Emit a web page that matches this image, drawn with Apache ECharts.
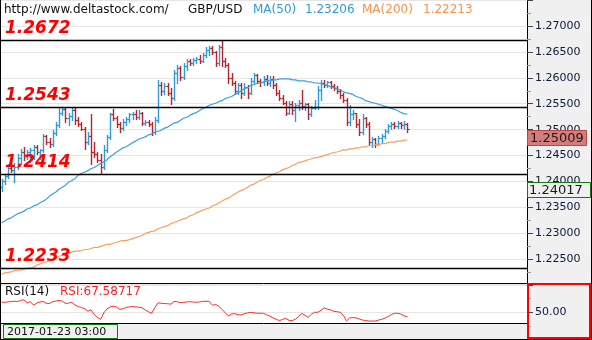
<!DOCTYPE html>
<html>
<head>
<meta charset="utf-8">
<script src="https://cdn.jsdelivr.net/npm/echarts@6/dist/echarts.min.js"></script>
<style>
  html, body { margin: 0; padding: 0; background: #fff; }
  #chart { width: 592px; height: 340px; }
</style>
</head>
<body>
<div id="chart"></div>
<script>
// GBP/USD hourly bars with MA(50), MA(200) and RSI(14)
const siteName = 'http://www.deltastock.com/';
const symbolName = 'GBP/USD';
const firstBarTime = '2017-01-23 03:00';
const slotCount = 165;          // hourly slots on the time axis (bars fill the first part)
const cursorIndex = 0;          // bar under the cursor: header values and the green price box

// [open, high, low, close]
const bars = [
  [1.2389,1.2404,1.2381,1.24017],[1.2402,1.2412,1.2395,1.2410],[1.2410,1.2433,1.2406,1.2427],[1.2427,1.2438,1.2419,1.2423],
  [1.2423,1.2435,1.2400,1.2429],[1.2429,1.2454,1.2425,1.2446],[1.2446,1.2463,1.2433,1.2457],[1.2457,1.2467,1.2442,1.2452],
  [1.2452,1.2461,1.2444,1.2457],[1.2457,1.2465,1.2438,1.2461],[1.2461,1.2471,1.2444,1.2467],[1.2467,1.2471,1.2454,1.2457],
  [1.2457,1.2463,1.2444,1.2461],[1.2461,1.2492,1.2457,1.2488],[1.2488,1.2490,1.2473,1.2476],[1.2476,1.2484,1.2467,1.2473],
  [1.2473,1.2499,1.2469,1.2494],[1.2494,1.2514,1.2490,1.2509],[1.2509,1.2541,1.2505,1.2533],[1.2533,1.2543,1.2528,1.2539],
  [1.2539,1.2541,1.2514,1.2522],[1.2522,1.2533,1.2509,1.2526],[1.2526,1.2542,1.2518,1.2537],[1.2537,1.2541,1.2511,1.2518],
  [1.2518,1.2524,1.2507,1.2511],[1.2511,1.2514,1.2499,1.2501],[1.2501,1.2505,1.2463,1.2476],[1.2476,1.2495,1.2473,1.2488],
  [1.2488,1.2530,1.2433,1.2457],[1.2457,1.2476,1.2448,1.2454],[1.2454,1.2457,1.2438,1.2442],[1.2442,1.2454,1.2414,1.2429],
  [1.2429,1.2471,1.2425,1.2461],[1.2461,1.2490,1.2457,1.2486],[1.2486,1.2533,1.2482,1.2530],[1.2530,1.2539,1.2518,1.2522],
  [1.2522,1.2526,1.2505,1.2511],[1.2511,1.2514,1.2495,1.2503],[1.2503,1.2520,1.2499,1.2514],[1.2514,1.2524,1.2509,1.2520],
  [1.2520,1.2533,1.2514,1.2530],[1.2530,1.2535,1.2520,1.2531],[1.2531,1.2537,1.2520,1.2524],[1.2524,1.2537,1.2520,1.2533],
  [1.2533,1.2535,1.2509,1.2513],[1.2513,1.2518,1.2509,1.2514],[1.2514,1.2518,1.2507,1.2511],[1.2511,1.2514,1.2490,1.2495],
  [1.2495,1.2524,1.2492,1.2518],[1.2518,1.2596,1.2514,1.2587],[1.2587,1.2592,1.2566,1.2575],[1.2575,1.2590,1.2568,1.2585],
  [1.2585,1.2590,1.2566,1.2571],[1.2571,1.2581,1.2549,1.2562],[1.2562,1.2615,1.2558,1.2609],[1.2609,1.2625,1.2590,1.2619],
  [1.2619,1.2623,1.2596,1.2602],[1.2602,1.2628,1.2598,1.2623],[1.2623,1.2636,1.2615,1.2632],[1.2632,1.2636,1.2625,1.2628],
  [1.2628,1.2638,1.2625,1.2634],[1.2634,1.2640,1.2628,1.2636],[1.2636,1.2644,1.2628,1.2632],[1.2632,1.2647,1.2630,1.2644],
  [1.2644,1.2659,1.2640,1.2653],[1.2653,1.2661,1.2644,1.2657],[1.2657,1.2661,1.2645,1.2649],[1.2649,1.2651,1.2623,1.2628],
  [1.2628,1.2663,1.2625,1.2659],[1.2659,1.2672,1.2623,1.2632],[1.2632,1.2638,1.2621,1.2625],[1.2625,1.2628,1.2590,1.2600],
  [1.2600,1.2609,1.2587,1.2590],[1.2590,1.2594,1.2568,1.2575],[1.2575,1.2590,1.2568,1.2587],[1.2587,1.2590,1.2562,1.2571],
  [1.2571,1.2590,1.2566,1.2583],[1.2583,1.2587,1.2562,1.2571],[1.2571,1.2600,1.2568,1.2594],[1.2594,1.2609,1.2590,1.2606],
  [1.2606,1.2608,1.2590,1.2594],[1.2594,1.2598,1.2585,1.2592],[1.2592,1.2604,1.2587,1.2598],[1.2598,1.2606,1.2587,1.2590],
  [1.2590,1.2604,1.2585,1.2598],[1.2598,1.2604,1.2581,1.2587],[1.2587,1.2590,1.2566,1.2571],[1.2571,1.2577,1.2558,1.2562],
  [1.2562,1.2566,1.2549,1.2552],[1.2552,1.2556,1.2528,1.2533],[1.2533,1.2556,1.2530,1.2549],[1.2549,1.2556,1.2530,1.2537],
  [1.2537,1.2552,1.2516,1.2547],[1.2547,1.2558,1.2537,1.2552],[1.2552,1.2577,1.2539,1.2545],[1.2545,1.2552,1.2537,1.2549],
  [1.2549,1.2551,1.2520,1.2530],[1.2530,1.2545,1.2526,1.2541],[1.2541,1.2558,1.2539,1.2543],[1.2543,1.2585,1.2539,1.2577],
  [1.2577,1.2596,1.2558,1.2590],[1.2590,1.2596,1.2583,1.2587],[1.2587,1.2594,1.2583,1.2592],[1.2592,1.2594,1.2581,1.2585],
  [1.2585,1.2589,1.2577,1.2581],[1.2581,1.2585,1.2571,1.2575],[1.2575,1.2579,1.2562,1.2566],[1.2566,1.2570,1.2554,1.2558],
  [1.2558,1.2562,1.2509,1.2514],[1.2514,1.2547,1.2509,1.2530],[1.2530,1.2537,1.2520,1.2533],[1.2533,1.2533,1.2505,1.2511],
  [1.2511,1.2520,1.2490,1.2495],[1.2495,1.2530,1.2492,1.2522],[1.2522,1.2524,1.2505,1.2511],[1.2511,1.2514,1.2471,1.2476],
  [1.2476,1.2486,1.2467,1.2482],[1.2482,1.2484,1.2467,1.2473],[1.2473,1.2488,1.2471,1.2484],[1.2484,1.2492,1.2476,1.2488],
  [1.2488,1.2501,1.2484,1.2497],[1.2497,1.2511,1.2494,1.2507],[1.2507,1.2514,1.2501,1.2511],[1.2511,1.2514,1.2503,1.2507],
  [1.2507,1.2516,1.2503,1.2513],[1.2513,1.2514,1.2503,1.2509],[1.2509,1.2516,1.2501,1.2511],[1.2511,1.2513,1.2495,1.25009]
];

const ma50 = [
  1.23206,1.2324,1.2328,1.2330,1.2334,1.2338,1.2340,1.2343,1.2347,1.2349,
  1.2353,1.2355,1.2359,1.2362,1.2366,1.2372,1.2376,1.2380,1.2385,1.2389,
  1.2393,1.2399,1.2402,1.2406,1.2412,1.2416,1.2418,1.2421,1.2425,1.2427,
  1.2431,1.2435,1.2438,1.2442,1.2448,1.2452,1.2457,1.2461,1.2465,1.2467,
  1.2471,1.2475,1.2478,1.2482,1.2484,1.2486,1.2490,1.2492,1.2495,1.2497,
  1.2499,1.2503,1.2505,1.2509,1.2513,1.2514,1.2518,1.2522,1.2524,1.2528,
  1.2531,1.2533,1.2537,1.2541,1.2543,1.2547,1.2549,1.2551,1.2554,1.2556,
  1.2560,1.2562,1.2564,1.2568,1.2571,1.2575,1.2579,1.2581,1.2585,1.2587,
  1.2589,1.2590,1.2592,1.2594,1.2594,1.2596,1.2596,1.2598,1.2598,1.2598,
  1.2598,1.2596,1.2596,1.2594,1.2594,1.2594,1.2592,1.2592,1.2590,1.2590,
  1.2589,1.2587,1.2585,1.2583,1.2581,1.2579,1.2577,1.2573,1.2571,1.2570,
  1.2568,1.2564,1.2562,1.2560,1.2556,1.2554,1.2552,1.2551,1.2549,1.2547,
  1.2545,1.2543,1.2541,1.2539,1.2537,1.2533,1.2531,1.2530
];

const ma200 = [
  1.22213,1.2224,1.2225,1.2226,1.2228,1.2229,1.2229,1.2231,1.2233,1.2233,
  1.2235,1.2239,1.2241,1.2243,1.2245,1.2248,1.2250,1.2252,1.2256,1.2258,
  1.2260,1.2262,1.2264,1.2266,1.2266,1.2267,1.2269,1.2269,1.2271,1.2273,
  1.2273,1.2275,1.2277,1.2279,1.2279,1.2281,1.2283,1.2285,1.2286,1.2286,
  1.2288,1.2290,1.2292,1.2294,1.2296,1.2300,1.2302,1.2304,1.2305,1.2309,
  1.2311,1.2313,1.2315,1.2319,1.2321,1.2323,1.2326,1.2328,1.2330,1.2334,
  1.2336,1.2340,1.2342,1.2345,1.2347,1.2349,1.2353,1.2355,1.2359,1.2362,
  1.2366,1.2368,1.2372,1.2376,1.2380,1.2383,1.2385,1.2389,1.2393,1.2395,
  1.2399,1.2402,1.2404,1.2408,1.2410,1.2414,1.2417,1.2419,1.2423,1.2425,
  1.2427,1.2431,1.2433,1.2437,1.2438,1.2440,1.2442,1.2444,1.2446,1.2446,
  1.2448,1.2450,1.2452,1.2454,1.2456,1.2457,1.2459,1.2461,1.2461,1.2463,
  1.2463,1.2465,1.2465,1.2467,1.2467,1.2469,1.2469,1.2471,1.2471,1.2473,
  1.2473,1.2475,1.2476,1.2476,1.2478,1.2478,1.2480,1.2480
];

const rsi14 = [
  67.58717,67.2,68.1,68.5,69.2,68.6,70.9,71.8,66.3,68.4,
  62.3,65.8,67.9,68.8,65.6,65.0,68.4,69.6,70.8,69.5,
  65.2,66.0,67.3,62.4,59.6,58.0,55.8,51.5,53.8,45.5,
  40.2,36.8,48.5,55.5,59.0,60.3,58.8,54.9,55.5,58.2,
  59.0,59.8,59.2,58.6,57.4,53.4,50.4,47.8,58.0,66.5,
  65.5,65.0,64.8,64.0,68.8,68.2,66.8,67.2,68.0,68.5,
  67.8,67.3,68.0,69.0,69.2,68.8,62.0,63.5,60.5,54.5,
  49.0,42.8,46.5,47.0,45.0,44.8,47.0,48.4,49.5,48.5,
  47.8,47.8,47.6,45.0,42.5,39.5,37.0,34.5,37.0,38.5,
  35.0,34.5,37.3,42.0,47.5,44.0,40.5,46.0,49.5,49.5,
  53.0,57.5,55.0,53.8,51.3,50.5,49.5,44.0,34.0,39.5,
  40.0,39.3,37.5,35.6,34.8,33.8,33.8,34.0,35.5,37.0,
  39.0,42.0,45.5,47.6,47.6,46.5,43.0,41.5
];

// support / resistance levels drawn across the price pane
const levels = [1.2672, 1.2543, 1.2414, 1.2233];

// price axis range and step
const priceMin = 1.220, priceMax = 1.275, priceStep = 0.005;
const rsiMin = 0, rsiMax = 100, rsiStep = 50;

const UP = '#2f9ad4', DOWN = '#b3262b';
const MA50_COLOR = '#3aa0dc', MA200_COLOR = '#f6a262';
const FONT = 'DejaVu Sans';

// hourly time labels for the category axis
function pad(n) { return String(n).padStart(2, '0'); }
const t0 = Date.UTC(2017, 0, 23, 3, 0);
const times = [];
for (let i = 0; i < slotCount; i++) {
  const d = new Date(t0 + i * 3600000);
  times.push(d.getUTCFullYear() + '-' + pad(d.getUTCMonth() + 1) + '-' + pad(d.getUTCDate()) +
             ' ' + pad(d.getUTCHours()) + ':' + pad(d.getUTCMinutes()));
}

const chart = echarts.init(document.getElementById('chart'), null, { renderer: 'canvas' });

function crisp(v) { return Math.round(v) + 0.5; }

// one HLC bar: high-low stem, open tick to the left, close tick to the right
function renderBar(params, api) {
  const i = api.value(0);
  const o = api.value(1), h = api.value(2), l = api.value(3), c = api.value(4);
  const x = crisp(api.coord([i, o])[0]);
  const yO = crisp(api.coord([i, o])[1]);
  const yH = Math.round(api.coord([i, h])[1]);
  const yL = Math.round(api.coord([i, l])[1]) + 1;
  const yC = crisp(api.coord([i, c])[1]);
  const color = c >= o ? UP : DOWN;
  const stem = { stroke: color, lineWidth: 1.4 };
  const tick = { stroke: color, lineWidth: 1.2 };
  return {
    type: 'group',
    children: [
      { type: 'line', shape: { x1: x, y1: yH, x2: x, y2: yL }, style: stem },
      { type: 'line', shape: { x1: x - 2, y1: yO, x2: x, y2: yO }, style: tick },
      { type: 'line', shape: { x1: x, y1: yC, x2: x + 2, y2: yC }, style: tick }
    ]
  };
}

const axisLabelBase = { color: '#0b1a3a', fontFamily: FONT, fontSize: 11, margin: 8 };

chart.setOption({
  animation: false,
  backgroundColor: '#ffffff',
  grid: [
    { left: 0, right: 65, top: -4.0, height: 289.3 },
    { left: 0, right: 65, top: 284, height: 57 }
  ],
  xAxis: [
    { type: 'category', gridIndex: 0, data: times, boundaryGap: true, show: false },
    { type: 'category', gridIndex: 1, data: times, boundaryGap: true, show: false }
  ],
  yAxis: [
    {
      type: 'value', gridIndex: 0, position: 'right',
      min: priceMin, max: priceMax, interval: priceStep,
      axisLine: { show: true, lineStyle: { color: '#000', width: 1 } },
      axisTick: { show: true, length: 6, lineStyle: { color: '#444' } },
      minorTick: { show: true, splitNumber: 2, length: 4, lineStyle: { color: '#999' } },
      splitLine: { show: true, lineStyle: { color: '#e6e6e6', width: 1 } },
      axisLabel: Object.assign({}, axisLabelBase, {
        showMinLabel: false, showMaxLabel: false,
        formatter: v => v.toFixed(5)
      })
    },
    {
      type: 'value', gridIndex: 1, position: 'right',
      min: rsiMin, max: rsiMax, interval: rsiStep,
      axisLine: { show: true, lineStyle: { color: '#000', width: 1 } },
      axisTick: { show: true, length: 6, lineStyle: { color: '#444' } },
      minorTick: { show: true, splitNumber: 2, length: 4, lineStyle: { color: '#999' } },
      splitLine: { show: true, lineStyle: { color: '#e6e6e6', width: 1 } },
      axisLabel: Object.assign({}, axisLabelBase, {
        showMinLabel: false, showMaxLabel: false,
        formatter: v => v.toFixed(2)
      })
    }
  ],
  series: [
    {
      name: symbolName, type: 'custom', xAxisIndex: 0, yAxisIndex: 0,
      renderItem: renderBar,
      encode: { x: 0, y: [1, 2, 3, 4] },
      data: bars.map((b, i) => [i, b[0], b[1], b[2], b[3]]),
      z: 3
    },
    {
      name: 'MA(50)', type: 'line', xAxisIndex: 0, yAxisIndex: 0,
      data: ma50, showSymbol: false, symbol: 'none',
      lineStyle: { color: MA50_COLOR, width: 1.2 }, z: 4
    },
    {
      name: 'MA(200)', type: 'line', xAxisIndex: 0, yAxisIndex: 0,
      data: ma200, showSymbol: false, symbol: 'none',
      lineStyle: { color: MA200_COLOR, width: 1.2 }, z: 4
    },
    {
      name: 'RSI(14)', type: 'line', xAxisIndex: 1, yAxisIndex: 1,
      data: rsi14, showSymbol: false, symbol: 'none',
      lineStyle: { color: '#ff2a2a', width: 1 }, z: 4
    }
  ]
});

// overlays placed through the axes' own scales
const py = v => chart.convertToPixel({ yAxisIndex: 0 }, v);
const last = bars[bars.length - 1][3];
const cursorClose = bars[cursorIndex][3];

const g = [];
// right-hand axis panel background
g.push({ type: 'rect', z: -10, shape: { x: 527, y: 0, width: 65, height: 340 }, style: { fill: '#f0f0f0' } });

// support / resistance lines with their captions
levels.forEach(v => {
  const y = Math.round(py(v));
  g.push({
    type: 'line', z: 50,
    shape: { x1: 0, y1: y + 0.5, x2: 527, y2: y + 0.5 },
    style: { stroke: '#000', lineWidth: 1.3 }
  });
  g.push({
    type: 'text', z: 60, x: 5, y: y - 11,
    style: {
      text: v.toFixed(4), fill: '#ff0000', font: 'italic bold 17px "DejaVu Sans"',
      verticalAlign: 'middle', align: 'left'
    }
  });
});

// header line
const header = [
  [4, siteName, '#111'],
  [188, symbolName, '#111'],
  [253, 'MA(50)', '#2f9cd8'],
  [305, ma50[cursorIndex].toFixed(5), '#2f9cd8'],
  [362, 'MA(200)', '#f7924a'],
  [423, ma200[cursorIndex].toFixed(5), '#f7924a']
];
header.forEach(([x, t, c]) => g.push({
  type: 'text', z: 60, x: x, y: 10,
  style: { text: t, fill: c, font: '12px "DejaVu Sans"', verticalAlign: 'middle' }
}));

// RSI pane caption
g.push({ type: 'text', z: 60, x: 5, y: 292, style: { text: 'RSI(14)', fill: '#111', font: '12px "DejaVu Sans"', verticalAlign: 'middle' } });
g.push({ type: 'text', z: 60, x: 60, y: 292, style: { text: 'RSI:' + rsi14[cursorIndex].toFixed(5), fill: '#ff2020', font: '12px "DejaVu Sans"', verticalAlign: 'middle' } });

// pane separator
g.push({ type: 'line', z: 60, shape: { x1: 0, y1: 283.5, x2: 527, y2: 283.5 }, style: { stroke: '#000', lineWidth: 1 } });

// time bar under the RSI pane
g.push({ type: 'rect', z: 55, shape: { x: 0, y: 323, width: 527, height: 17 }, style: { fill: '#f0f0f0' } });
g.push({ type: 'line', z: 60, shape: { x1: 0, y1: 323.5, x2: 527, y2: 323.5 }, style: { stroke: '#000', lineWidth: 1 } });
g.push({ type: 'rect', z: 61, shape: { x: 3.5, y: 324.5, width: 114, height: 14 }, style: { fill: 'none', stroke: '#0a7a0a', lineWidth: 1 } });
g.push({ type: 'text', z: 62, x: 7, y: 332, style: { text: times[cursorIndex], fill: '#111', font: '11px "DejaVu Sans"', verticalAlign: 'middle' } });

// last price box
const yLast = Math.round(py(last));
g.push({ type: 'rect', z: 70, shape: { x: 527.5, y: yLast + 1.5, width: 59, height: 15 }, style: { fill: '#d77c7c', stroke: '#b84848', lineWidth: 1 } });
g.push({ type: 'text', z: 71, x: 530, y: yLast + 9.5, style: { text: last.toFixed(5), fill: '#1a1a1a', font: '13px "DejaVu Sans"', verticalAlign: 'middle' } });

// cursor price box
const yCur = Math.round(py(cursorClose));
g.push({ type: 'rect', z: 70, shape: { x: 527.5, y: yCur + 1.5, width: 63, height: 15 }, style: { fill: '#f0f0f0', stroke: '#137a13', lineWidth: 1 } });
g.push({ type: 'text', z: 71, x: 529, y: yCur + 9.5, style: { text: cursorClose.toFixed(5), fill: '#1a1a1a', font: '13px "DejaVu Sans"', verticalAlign: 'middle' } });

// RSI axis frame
g.push({ type: 'rect', z: 70, shape: { x: 528, y: 284, width: 62, height: 54 }, style: { fill: 'none', stroke: '#ff0000', lineWidth: 2 } });

// outer frame
g.push({ type: 'line', z: 80, shape: { x1: 0.5, y1: 0, x2: 0.5, y2: 340 }, style: { stroke: '#000', lineWidth: 1 } });
g.push({ type: 'line', z: 80, shape: { x1: 591.5, y1: 0, x2: 591.5, y2: 340 }, style: { stroke: '#000', lineWidth: 1 } });
g.push({ type: 'line', z: 80, shape: { x1: 0, y1: 339.5, x2: 592, y2: 339.5 }, style: { stroke: '#000', lineWidth: 1 } });

chart.setOption({ graphic: g });
</script>
</body>
</html>
